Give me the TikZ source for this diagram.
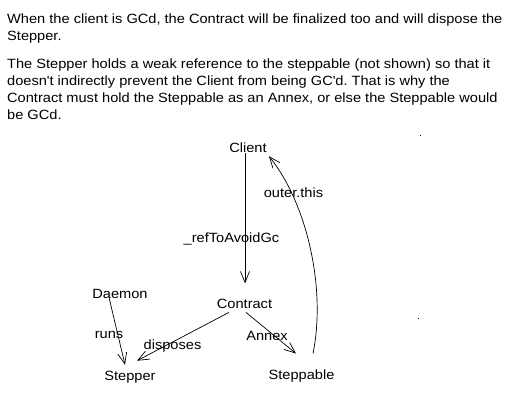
\documentclass[tikz,border=0pt]{standalone}
\usepackage{fontspec}
\setmainfont{Liberation Sans}[FakeStretch=1.09]
\frenchspacing
\usetikzlibrary{arrows.meta,calc}
\begin{document}
\begin{tikzpicture}[x=1pt,y=-1pt,
  txt/.style={anchor=base west,inner sep=0pt,font=\fontsize{13.4}{16}\selectfont},
  lbl/.style={anchor=base,inner sep=0pt,font=\fontsize{13.4}{16}\selectfont},
  conn/.style={line width=0.7pt,-{Straight Barb[length=11pt,width=9pt,line width=0.7pt]}},
  dot/.style={fill=black}]
\useasboundingbox (0,0) rectangle (519,412);
\fill[white] (0,0) rectangle (519,412);
% text
\node[txt] (t1) at (7,24) {When the client is GCd, the Contract will be finalized too and will dispose the};
\node[txt] (t2) at (7,41) {Stepper.};
\node[txt] (t3) at (7,68) {The Stepper holds a weak reference to the steppable (not shown) so that it};
\node[txt] (t4) at (7,85) {doesn\textquotesingle t indirectly prevent the Client from being GC\textquotesingle d. That is why the};
\node[txt] (t5) at (7,102) {Contract must hold the Steppable as an Annex, or else the Steppable would};
\node[txt] (t6) at (7,119) {be GCd.};
% nodes
\node[lbl] (client) at (248,152) {Client};
\node[lbl] (contract) at (244.5,308) {Contract};
\node[lbl] (daemon) at (120,298) {Daemon};
\node[lbl] (stepper) at (130,380) {Stepper};
\node[lbl] (steppable) at (301.5,379) {Steppable};
% labels
\node[lbl] (louter) at (293.5,197) {outer.this};
\node[lbl] (lref) at (231.5,242) {\_refToAvoidGc};
\node[lbl] (lruns) at (109,338) {runs};
\node[lbl] (ldisp) at (172.5,349) {disposes};
\node[lbl] (lannex) at (267,340) {Annex};
% connectors
\draw[conn] ($(client)+(-3,6)$) -- ($(contract)+(0.5,-20)$);
\draw[conn] ($(steppable)+(11.5,-22)$) .. controls (326,290) and (308,205) .. ($(client)+(21,9)$);
\draw[conn] ($(daemon)+(-11,4)$) -- ($(stepper)+(-5,-12)$);
\draw[conn] ($(contract)+(-15.5,9)$) -- ($(stepper)+(7,-16)$);
\draw[conn] ($(contract)+(1.5,9)$) -- ($(steppable)+(-5.5,-22)$);
% stray dots
\fill[dot] (420,134.5) rectangle (421.2,135.7);
\fill[dot] (417.5,317.5) rectangle (418.7,318.7);
\end{tikzpicture}
\end{document}
